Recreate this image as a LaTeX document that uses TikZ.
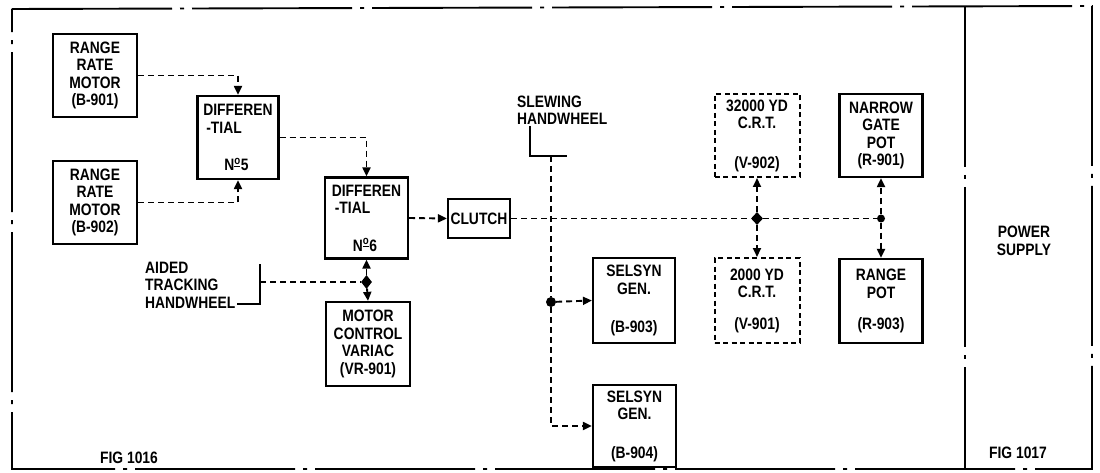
\documentclass[tikz,border=0pt]{standalone}
\usepackage{fontspec}
\setmainfont{Liberation Sans}[FakeStretch=0.84]
\usetikzlibrary{arrows.meta,shapes.geometric}
\begin{document}
\begin{tikzpicture}[x=1pt,y=-1pt,
  lbl/.style={font=\bfseries\fontsize{16.5}{17.5}\selectfont, inner sep=0pt, align=center},
  blk/.style={draw, line width=2.2pt, lbl, minimum width=83pt, minimum height=83pt},
  dblk/.style={blk, line width=2pt, dash pattern=on 5pt off 3.5pt},
  conn/.style={line width=1.9pt, dash pattern=on 6pt off 4pt},
  arr/.style={conn, -{Triangle[length=9pt,width=8pt]}},
  framel/.style={line width=1.9pt, dash pattern=on 160pt off 8pt on 4pt off 8pt},
  solidl/.style={line width=2pt},
  jdia/.style={diamond, fill, inner sep=0pt, minimum width=11pt, minimum height=14pt},
  jdot/.style={circle, fill, inner sep=0pt, minimum size=10pt}
]
\useasboundingbox (0,0) rectangle (1100,473);

% frame
\coordinate (tl) at (12,9);
\coordinate (tr) at (1092,6);
\coordinate (br) at (1092,469);
\coordinate (bl) at (12,469);
\coordinate (dt) at (965,7);
\coordinate (db) at (965,469);
\draw[framel] (tl) -- (tr) -- (br) -- (bl) -- cycle;
\draw[framel] (dt) -- (db);

% blocks
\node[blk, minimum width=84pt] (rrm1) at (95,75.5) {RANGE\\RATE\\MOTOR\\(B-901)};
\node[blk, minimum width=84pt] (rrm2) at (95,202.5) {RANGE\\RATE\\MOTOR\\(B-902)};
\node[blk, minimum width=81pt, align=left] (d5) at (238,137.5)
  {DIFFEREN\\\hspace*{3pt}-TIAL\\[20pt]\hspace*{21pt}N\textsuperscript{\underline{o}}5};
\node[blk, minimum height=81pt, align=left] (d6) at (366.5,218)
  {DIFFEREN\\\hspace*{3pt}-TIAL\\[20pt]\hspace*{21pt}N\textsuperscript{\underline{o}}6};
\node[blk, minimum width=84pt, minimum height=84pt] (var) at (368,344) {MOTOR\\CONTROL\\VARIAC\\(VR-901)};
\node[blk, minimum width=62pt, minimum height=39pt] (clutch) at (479,218.5) {CLUTCH};
\node[blk, minimum width=82pt, minimum height=85pt] (sg903) at (634,300.5) {SELSYN\\GEN.\\[21pt](B-903)};
\node[blk, minimum height=82pt] (sg904) at (634.5,426) {SELSYN\\GEN.\\[21pt](B-904)};
\node[dblk, minimum width=85pt] (crt32) at (757,135.5) {32000 YD\\C.R.T.\\[22pt](V-902)};
\node[dblk, minimum width=85pt, minimum height=85pt] (crt2) at (757,300.5) {2000 YD\\C.R.T.\\[14pt](V-901)};
\node[blk] (ngp) at (881,135.5) {NARROW\\GATE\\POT\\(R-901)};
\node[blk, minimum height=84pt] (rp) at (881,301) {RANGE\\POT\\[14pt](R-903)};

% labels
\node[lbl, align=left, anchor=west] (aided) at (145,285) {AIDED\\TRACKING\\HANDWHEEL};
\node[lbl, align=left, anchor=west] (slew) at (517,110) {SLEWING\\HANDWHEEL};
\node[lbl] (ps) at (1024,241) {POWER\\SUPPLY};
\node[lbl] (fig16) at (129,458) {FIG 1016};
\node[lbl] (fig17) at (1018,453) {FIG 1017};

% junctions
\node[jdia] (j1) at (366.5,282) {};
\node[jdot] (j2) at (551,302) {};
\node[jdia, minimum width=12pt, minimum height=13pt] (j3) at (757,218.5) {};
\node[jdot, minimum size=8pt] (j4) at (881,218.5) {};

% handwheel brackets
\coordinate (ab1) at (260,264);
\coordinate (ab2) at (260,304);
\coordinate (athw) at (260,282);
\draw[solidl] ([xshift=2pt]aided.east |- ab2) -- (ab2) -- (ab1);
\coordinate (sb1) at (530,126);
\coordinate (sb2) at (530,156);
\coordinate (sb3) at (567,156);
\coordinate (st) at (551,156);
\draw[solidl] (sb1) -- (sb2) -- (sb3);

% connectors
\draw[arr] (rrm1.east) -| (d5.north);
\draw[arr] (rrm2.east) -| (d5.south);
\draw[arr] (d5.east) -| (d6.north);
\draw[arr] (d6.east) -- (clutch.west);
\draw[conn] (clutch.east) -- (j3) -- (j4);
\draw[arr] (j3) -- (crt32.south);
\draw[arr] (j3) -- (crt2.north);
\draw[arr] (j4) -- (ngp.south);
\draw[arr] (j4) -- (rp.north);
\draw[conn] (athw) -- (j1);
\draw[arr] (j1) -- (d6.south);
\draw[arr] (j1) -- (var.north);
\draw[conn] (st) -- (j2);
\draw[arr] (j2) -- (sg903.west);
\draw[arr] (j2) |- (sg904.west);
\end{tikzpicture}
\end{document}
